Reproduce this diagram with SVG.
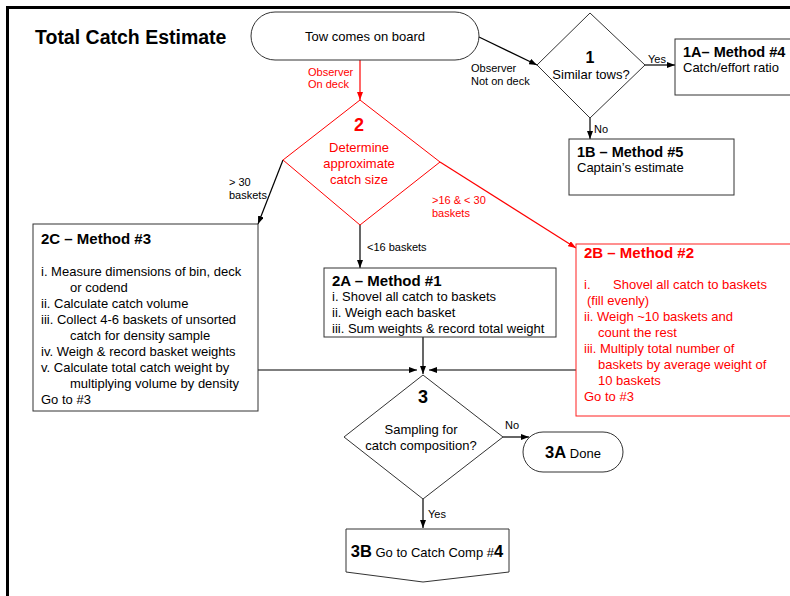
<svg xmlns="http://www.w3.org/2000/svg" width="790" height="596" viewBox="0 0 790 596">
<style>
text{font-family:"Liberation Sans",Arial,sans-serif;fill:#000}
.b{font-weight:bold}
.r{fill:#ff0000}
.t13{font-size:13px}
.t11{font-size:11px}
.box{fill:#fff;stroke:#333;stroke-width:1}
.rbox{fill:#fff;stroke:#ff2020;stroke-width:1}
.ln{fill:none;stroke:#000;stroke-width:1.2}
.rln{fill:none;stroke:#ff0000;stroke-width:1.2}
</style>
<defs>
<marker id="ab" viewBox="0 0 8 6" refX="8" refY="3" markerWidth="8" markerHeight="6" markerUnits="userSpaceOnUse" orient="auto"><path d="M0,0 L8,3 L0,6 z" fill="#000"/></marker>
<marker id="ar" viewBox="0 0 8 6" refX="8" refY="3" markerWidth="8" markerHeight="6" markerUnits="userSpaceOnUse" orient="auto"><path d="M0,0 L8,3 L0,6 z" fill="#ff0000"/></marker>
</defs>
<rect width="790" height="596" fill="#fff"/>
<path d="M7.5,596 V7.5 H790" fill="none" stroke="#000" stroke-width="3"/>
<text x="35" y="44" class="b" font-size="19.5">Total Catch Estimate</text>

<g id="connectors">
<line class="rln" x1="360" y1="60" x2="360" y2="100" marker-end="url(#ar)"/>
<line class="ln" x1="479" y1="37" x2="537" y2="65" marker-end="url(#ab)"/>
<line class="ln" x1="645" y1="65" x2="675" y2="65" marker-end="url(#ab)"/>
<line class="ln" x1="590" y1="118" x2="590" y2="139" marker-end="url(#ab)"/>
<line class="ln" x1="283" y1="160" x2="258" y2="224" marker-end="url(#ab)"/>
<line class="ln" x1="360" y1="225" x2="360" y2="268" marker-end="url(#ab)"/>
<line class="rln" x1="440" y1="162" x2="576" y2="248" marker-end="url(#ar)"/>
<line class="ln" x1="423" y1="337" x2="423" y2="374" marker-end="url(#ab)"/>
<line class="ln" x1="258" y1="370" x2="417" y2="370" marker-end="url(#ab)"/>
<line class="ln" x1="576" y1="370" x2="429" y2="370" marker-end="url(#ab)"/>
<line class="ln" x1="503" y1="437" x2="529" y2="437" marker-end="url(#ab)"/>
<line class="ln" x1="423" y1="499" x2="423" y2="528" marker-end="url(#ab)"/>
<text x="308" y="76" class="t11 r">Observer</text>
<text x="308" y="88" class="t11 r">On deck</text>
<text x="471" y="72" class="t11">Observer</text>
<text x="471" y="85" class="t11">Not on deck</text>
<text x="648" y="63" class="t11">Yes</text>
<text x="594" y="133" class="t11">No</text>
<text x="229" y="186" class="t11">&gt; 30</text>
<text x="229" y="199" class="t11">baskets</text>
<text x="367" y="251" class="t11">&lt;16 baskets</text>
<text x="432" y="204" class="t11 r">&gt;16 &amp; &lt; 30</text>
<text x="432" y="217" class="t11 r">baskets</text>
<text x="505" y="429" class="t11">No</text>
<text x="428" y="518" class="t11">Yes</text>
</g>

<g id="start">
<rect x="251" y="12" width="228" height="48" rx="24" ry="24" class="box"/>
<text x="365" y="41" class="t13" text-anchor="middle">Tow comes on board</text>
</g>

<g id="d1">
<path d="M590,13 L645,65 L590,118 L537,65 Z" class="box"/>
<text x="590" y="63" class="b" font-size="16" text-anchor="middle">1</text>
<text x="591" y="79" class="t13" text-anchor="middle">Similar tows?</text>
</g>

<g id="n1A">
<rect x="675" y="39" width="130" height="56" class="box"/>
<text x="683" y="57" class="b" font-size="14.5">1A– Method #4</text>
<text x="683" y="72" class="t13">Catch/effort ratio</text>
</g>

<g id="n1B">
<rect x="569" y="139" width="165" height="56" class="box"/>
<text x="577" y="157" class="b" font-size="14.5">1B – Method #5</text>
<text x="577" y="172" class="t13">Captain’s estimate</text>
</g>

<g id="d2">
<path d="M360,100 L440,162 L360,225 L283,160 Z" fill="#fff" stroke="#ff0000" stroke-width="1"/>
<text x="359" y="131" class="b r" font-size="18" text-anchor="middle">2</text>
<text x="359" y="152" class="t13 r" text-anchor="middle">Determine</text>
<text x="359" y="168" class="t13 r" text-anchor="middle">approximate</text>
<text x="359" y="184" class="t13 r" text-anchor="middle">catch size</text>
</g>

<g id="n2C">
<rect x="33" y="224" width="225" height="187" class="box"/>
<text x="41" y="244" class="b" font-size="15">2C – Method #3</text>
<text x="41" y="276" class="t13">i. Measure dimensions of bin, deck</text>
<text x="70" y="292" class="t13">or codend</text>
<text x="41" y="308" class="t13">ii. Calculate catch volume</text>
<text x="41" y="324" class="t13">iii. Collect 4-6 baskets of unsorted</text>
<text x="70" y="340" class="t13">catch  for density sample</text>
<text x="41" y="356" class="t13">iv. Weigh &amp; record basket weights</text>
<text x="41" y="372" class="t13">v. Calculate total catch weight by</text>
<text x="70" y="388" class="t13">multiplying  volume by density</text>
<text x="41" y="404" class="t13">Go to #3</text>
</g>

<g id="n2A">
<rect x="324" y="268" width="232" height="69" class="box"/>
<text x="332" y="286" class="b" font-size="15">2A – Method #1</text>
<text x="332" y="301" class="t13">i. Shovel all catch to baskets</text>
<text x="332" y="317" class="t13">ii. Weigh each basket</text>
<text x="332" y="333" class="t13">iii. Sum weights &amp; record total weight</text>
</g>

<g id="n2B">
<rect x="576" y="244" width="230" height="172" class="rbox"/>
<text x="584" y="258" class="b r" font-size="15">2B – Method #2</text>
<text x="584" y="289" class="t13 r">i.</text>
<text x="613" y="289" class="t13 r">Shovel all catch to baskets</text>
<text x="587" y="305" class="t13 r">(fill evenly)</text>
<text x="584" y="321" class="t13 r">ii. Weigh ~10 baskets and</text>
<text x="598" y="337" class="t13 r">count the rest</text>
<text x="584" y="353" class="t13 r">iii. Multiply total number of</text>
<text x="598" y="369" class="t13 r">baskets by average weight of</text>
<text x="598" y="385" class="t13 r">10 baskets</text>
<text x="584" y="401" class="t13 r">Go to #3</text>
</g>

<g id="d3">
<path d="M423,375 L503,437 L423,499 L344,437 Z" class="box"/>
<text x="423" y="403" class="b" font-size="18" text-anchor="middle">3</text>
<text x="421" y="434" class="t13" text-anchor="middle">Sampling for</text>
<text x="421" y="450" class="t13" text-anchor="middle">catch composition?</text>
</g>

<g id="n3A">
<rect x="523" y="432" width="100" height="40" rx="20" ry="20" class="box"/>
<text x="573" y="458" text-anchor="middle"><tspan class="b" font-size="16.5">3A</tspan><tspan class="t13"> Done</tspan></text>
</g>

<g id="n3B">
<path d="M346,529 H509 V572 L423,582 L346,572 Z" class="box"/>
<text x="427" y="557" text-anchor="middle"><tspan class="b" font-size="16.5">3B</tspan><tspan class="t13"> Go to Catch Comp #</tspan><tspan class="b" font-size="16.5">4</tspan></text>
</g>
</svg>
